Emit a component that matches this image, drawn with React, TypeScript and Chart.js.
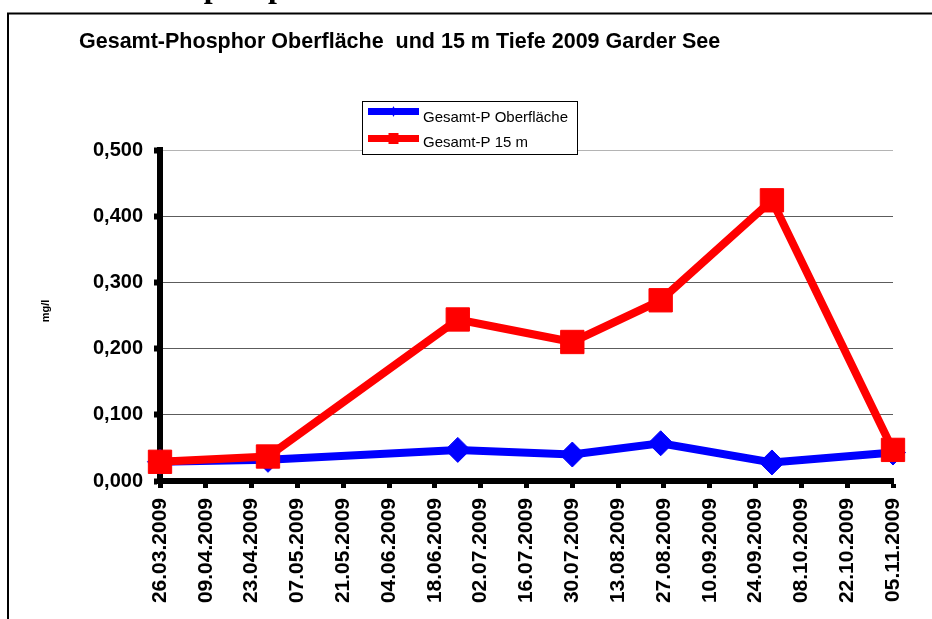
import React, { useEffect, useRef } from 'react';
import { Chart, registerables } from 'chart.js';

Chart.register(...registerables);

const heading = 'Gesamtphosphor';
const chartTitle = 'Gesamt-Phosphor Oberfläche  und 15 m Tiefe 2009 Garder See';
const yAxisTitle = 'mg/l';
const seriesNames = ['Gesamt-P Oberfläche', 'Gesamt-P 15 m'];
const seriesColors = ['#0000ff', '#ff0000'];

const sampleDates = ['26.03.2009', '28.04.2009', '25.06.2009', '30.07.2009', '26.08.2009', '29.09.2009', '05.11.2009'];
const surfaceP = [0.029, 0.032, 0.047, 0.040, 0.057, 0.028, 0.043];
const depth15P = [0.029, 0.037, 0.244, 0.210, 0.273, 0.424, 0.047];

const xTickLabels = [
  '26.03.2009', '09.04.2009', '23.04.2009', '07.05.2009', '21.05.2009', '04.06.2009',
  '18.06.2009', '02.07.2009', '16.07.2009', '30.07.2009', '13.08.2009', '27.08.2009',
  '10.09.2009', '24.09.2009', '08.10.2009', '22.10.2009', '05.11.2009',
];
const yTickValues = [0, 0.1, 0.2, 0.3, 0.4, 0.5];
const yTickLabels = ['0,000', '0,100', '0,200', '0,300', '0,400', '0,500'];

function dayNumber(s: string): number {
  const [d, m, y] = s.split('.').map(Number);
  return Date.UTC(y, m - 1, d) / 86400000;
}
const originDay = dayNumber(xTickLabels[0]);
const toDay = (s: string) => dayNumber(s) - originDay;

const W = 932;
const H = 619;

const decorPlugin = {
  id: 'decor',
  beforeDraw(chart: any) {
    const ctx = chart.ctx;
    ctx.save();
    ctx.fillStyle = '#ffffff';
    ctx.fillRect(0, 0, chart.width, chart.height);
    // frame
    ctx.strokeStyle = '#000000';
    ctx.lineWidth = 2;
    ctx.beginPath();
    ctx.moveTo(8, chart.height + 5);
    ctx.lineTo(8, 13.5);
    ctx.lineTo(chart.width + 5, 13.5);
    ctx.stroke();
    // cut-off heading above the frame
    ctx.fillStyle = '#000000';
    ctx.textAlign = 'left';
    ctx.textBaseline = 'alphabetic';
    ctx.font = 'bold 32px "Liberation Serif"';
    ctx.fillText(heading, 99, -3);
    // chart title
    ctx.font = 'bold 21.5px "Liberation Sans"';
    ctx.fillText(chartTitle, 79, 48);
    // y axis title
    ctx.save();
    ctx.translate(46, 311);
    ctx.rotate(-Math.PI / 2);
    ctx.font = 'bold 11px "Liberation Sans"';
    ctx.textAlign = 'center';
    ctx.textBaseline = 'middle';
    ctx.fillText(yAxisTitle, 0, 0);
    ctx.restore();
    ctx.restore();
  },
  afterDraw(chart: any) {
    const ctx = chart.ctx;
    ctx.save();
    const bx = 362.5, by = 101.5, bw = 215, bh = 53;
    ctx.fillStyle = '#ffffff';
    ctx.fillRect(bx, by, bw, bh);
    ctx.strokeStyle = '#000000';
    ctx.lineWidth = 1;
    ctx.strokeRect(bx, by, bw, bh);
    const rows = [111.5, 138.5];
    const baselines = [122, 147];
    chart.data.datasets.forEach((ds: any) => {
      const idx = seriesNames.indexOf(ds.label);
      const y = rows[idx];
      ctx.strokeStyle = ds.borderColor;
      ctx.fillStyle = ds.borderColor;
      ctx.lineWidth = 7;
      ctx.beginPath();
      ctx.moveTo(368, y);
      ctx.lineTo(419, y);
      ctx.stroke();
      if (ds.pointStyle === 'rectRot') {
        ctx.beginPath();
        ctx.moveTo(393.5, y - 5.5);
        ctx.lineTo(396, y);
        ctx.lineTo(393.5, y + 5.5);
        ctx.lineTo(391, y);
        ctx.closePath();
        ctx.fill();
      } else {
        ctx.fillRect(388.5, y - 5.5, 10, 11);
      }
      ctx.fillStyle = '#000000';
      ctx.font = '15px "Liberation Sans"';
      ctx.textAlign = 'left';
      ctx.textBaseline = 'alphabetic';
      ctx.fillText(ds.label, 423, baselines[idx]);
    });
    ctx.restore();
  },
};

export default function App() {
  const ref = useRef<HTMLCanvasElement | null>(null);

  useEffect(() => {
    if (!ref.current) return;
    const tickFont = { family: 'Liberation Sans', weight: 'bold' as const, size: 21 };
    const chart = new Chart(ref.current, {
      type: 'line',
      data: {
        datasets: [
          {
            label: seriesNames[0],
            data: sampleDates.map((d, i) => ({ x: toDay(d), y: surfaceP[i] })),
            borderColor: seriesColors[0],
            backgroundColor: seriesColors[0],
            borderWidth: 8,
            pointStyle: 'rectRot',
            pointRadius: 12.5,
            pointBorderWidth: 1,
            pointBackgroundColor: seriesColors[0],
            pointBorderColor: seriesColors[0],
            tension: 0,
            clip: false,
            order: 1,
          },
          {
            label: seriesNames[1],
            data: sampleDates.map((d, i) => ({ x: toDay(d), y: depth15P[i] })),
            borderColor: seriesColors[1],
            backgroundColor: seriesColors[1],
            borderWidth: 8,
            pointStyle: 'rect',
            pointRadius: 16.5,
            pointBorderWidth: 1,
            pointBackgroundColor: seriesColors[1],
            pointBorderColor: seriesColors[1],
            tension: 0,
            clip: false,
            order: 0,
          },
        ],
      },
      options: {
        responsive: false,
        animation: false,
        devicePixelRatio: 1,
        layout: { padding: { left: 35, top: 150, right: 39, bottom: 0 } },
        plugins: {
          legend: { display: false },
          title: { display: false },
          tooltip: { enabled: false },
        },
        scales: {
          x: {
            type: 'linear',
            min: 0,
            max: toDay(xTickLabels[xTickLabels.length - 1]),
            afterBuildTicks: (s: any) => {
              s.ticks = xTickLabels.map((l) => ({ value: toDay(l) }));
            },
            afterFit: (s: any) => {
              s.height = H - 481;
            },
            grid: {
              drawOnChartArea: false,
              drawTicks: true,
              tickLength: 7,
              tickWidth: 5,
              tickColor: '#000000',
            },
            border: { display: true, color: '#000000', width: 6 },
            ticks: {
              autoSkip: false,
              minRotation: 90,
              maxRotation: 90,
              padding: 10,
              color: '#000000',
              font: tickFont,
              callback: (_v: any, i: number) => xTickLabels[i],
            },
          },
          y: {
            type: 'linear',
            min: 0,
            max: 0.5,
            afterBuildTicks: (s: any) => {
              s.ticks = yTickValues.map((v) => ({ value: v }));
            },
            afterFit: (s: any) => {
              s.width = 125;
            },
            grid: {
              color: (c: any) => (c.tick && c.tick.value === 0.5 ? '#b4b4b4' : '#5c5c5c'),
              lineWidth: 1,
              tickLength: 6,
              tickWidth: 6,
              tickColor: '#000000',
            },
            border: { display: true, color: '#000000', width: 6 },
            ticks: {
              padding: 11,
              color: '#000000',
              font: { family: 'Liberation Sans', weight: 'bold' as const, size: 20 },
              callback: (_v: any, i: number) => yTickLabels[i],
            },
          },
        },
      },
      plugins: [decorPlugin],
    } as any);
    return () => chart.destroy();
  }, []);

  return (
    <div style={{ position: 'fixed', left: 0, top: 0, width: W, height: H, background: '#fff' }}>
      <canvas ref={ref} width={W} height={H} style={{ display: 'block', width: W, height: H }} />
    </div>
  );
}
